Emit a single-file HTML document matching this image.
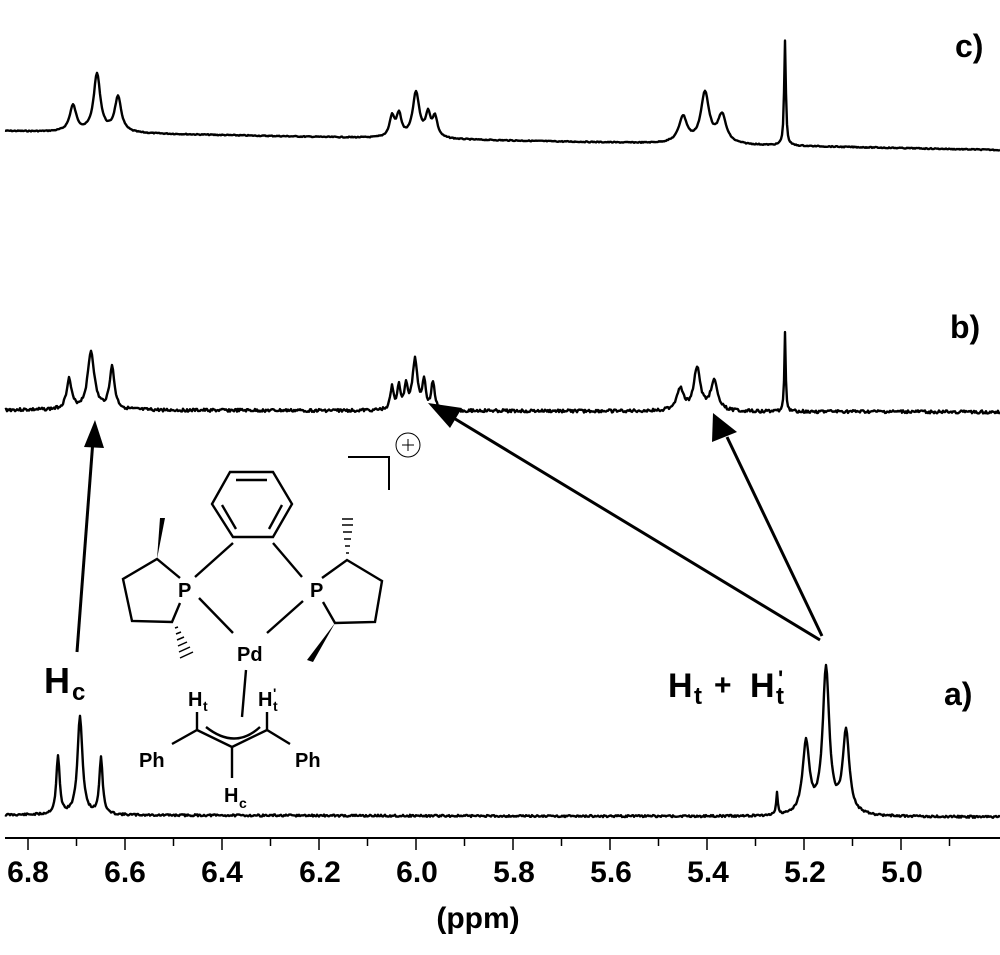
<!DOCTYPE html>
<html><head><meta charset="utf-8"><style>
html,body{margin:0;padding:0;background:#fff;}
svg{display:block}
text{font-family:"Liberation Sans",Arial,sans-serif;fill:#000;font-weight:bold}
</style></head><body>
<svg id="s" width="1000" height="955" viewBox="0 0 1000 955" xmlns="http://www.w3.org/2000/svg">
<g id="spec" fill="none" stroke="#000" stroke-width="2.4" stroke-linejoin="round"></g>
<line x1="5" y1="838" x2="1000" y2="838" stroke="#000" stroke-width="2"/>
<g id="ticks" stroke="#000" stroke-width="1.5"></g>
<g font-size="30">
<text x="28" y="882" text-anchor="middle">6.8</text>
<text x="125" y="882" text-anchor="middle">6.6</text>
<text x="222" y="882" text-anchor="middle">6.4</text>
<text x="320" y="882" text-anchor="middle">6.2</text>
<text x="417" y="882" text-anchor="middle">6.0</text>
<text x="514" y="882" text-anchor="middle">5.8</text>
<text x="611" y="882" text-anchor="middle">5.6</text>
<text x="708" y="882" text-anchor="middle">5.4</text>
<text x="805" y="882" text-anchor="middle">5.2</text>
<text x="902" y="882" text-anchor="middle">5.0</text>
<text x="478" y="928" text-anchor="middle">(ppm)</text>
</g>
<g font-size="32">
<text x="955" y="57">c)</text>
<text x="950" y="338">b)</text>
<text x="944" y="705">a)</text>
<text x="44" y="693" font-size="36">H</text>
<text x="72" y="700" font-size="24">c</text>
<text x="668" y="697" font-size="34">H</text>
<text x="694" y="704" font-size="24">t</text>
<text x="714" y="695" font-size="30">+</text>
<text x="750" y="697" font-size="34">H</text>
<text x="776" y="704" font-size="24">t</text>
<text x="778" y="686" font-size="22">'</text>
</g>
<g stroke="#000" stroke-width="3" fill="#000">
<line x1="77" y1="652" x2="93" y2="440"/>
<polygon points="95,420 84,447 104,448" stroke="none"/>
<line x1="820" y1="640" x2="447" y2="414"/>
<polygon points="428,403 450,428 462,408" stroke="none"/>
<line x1="822" y1="636" x2="727" y2="437"/>
<polygon points="713,413 712,442 737,432" stroke="none"/>
</g>
<g stroke="#000" stroke-width="2" fill="none">
<polyline points="348,457 389,457 389,490"/>
<circle cx="408" cy="445" r="12" stroke-width="1"/>
<line x1="402" y1="445" x2="414" y2="445" stroke-width="1"/>
<line x1="408" y1="439" x2="408" y2="451" stroke-width="1"/>
</g>
<g stroke="#000" stroke-width="2.4" fill="none">
<polygon points="230,472 273,472 292,504 273,537 233,537 212,504"/>
<line x1="236" y1="480" x2="267" y2="480"/>
<line x1="222" y1="505" x2="236" y2="529"/>
<line x1="282" y1="505" x2="269" y2="529"/>
<line x1="233" y1="543" x2="195" y2="577"/>
<line x1="273" y1="543" x2="302" y2="577"/>
<line x1="199" y1="598" x2="233" y2="633"/>
<line x1="303" y1="601" x2="267" y2="633"/>
<polyline points="180,578 157,559 123,579 132,621 172,622 180,603"/>
<polyline points="322,578 347,560 382,581 375,622 335,623 323,602"/>
<line x1="246" y1="670" x2="242" y2="717"/>
<line x1="197" y1="712" x2="197" y2="730"/>
<line x1="267" y1="712" x2="267" y2="730"/>
<polyline points="172,744 197,730 232,747 267,730 290,744"/>
<line x1="232" y1="747" x2="232" y2="778"/>
<path d="M206,727 Q235,750 260,727"/>
</g>
<g fill="#000">
<polygon points="157,559 160,518 165,518"/>
<polygon points="335,623 307,660 313,662"/>
</g>
<g stroke="#000" stroke-width="1.5">
<line x1="175" y1="628" x2="178" y2="627"/><line x1="176" y1="634" x2="181" y2="632"/>
<line x1="177" y1="640" x2="184" y2="637"/><line x1="178" y1="646" x2="187" y2="642"/>
<line x1="179" y1="652" x2="190" y2="647"/><line x1="180" y1="658" x2="193" y2="652"/>
<line x1="346" y1="553" x2="349" y2="553"/><line x1="345" y1="546" x2="350" y2="546"/>
<line x1="344" y1="539" x2="351" y2="539"/><line x1="343" y1="532" x2="352" y2="532"/>
<line x1="342" y1="525" x2="353" y2="525"/><line x1="342" y1="519" x2="353" y2="519"/>
</g>
<g font-size="20">
<text x="178" y="597">P</text>
<text x="310" y="597">P</text>
<text x="237" y="661">Pd</text>
<text x="188" y="706">H</text><text x="203" y="711" font-size="14">t</text>
<text x="258" y="706">H</text><text x="273" y="711" font-size="14">t</text>
<text x="273" y="698" font-size="14">'</text>
<text x="139" y="767">Ph</text>
<text x="295" y="767">Ph</text>
<text x="224" y="802">H</text><text x="239" y="808" font-size="14">c</text>
</g>
</svg>
<script>
(function(){
var g=document.getElementById('spec');
function L(x,x0,w,h){var d=(x-x0)/w;return h/(1+d*d);}
function mk(base0,base1,peaks,xs,xe,seed,noise){
 var d='';var r=seed;
 for(var x=xs;x<=xe;x+=1){
  var y=base0+(base1-base0)*(x-xs)/(xe-xs);
  for(var i=0;i<peaks.length;i++){y-=L(x,peaks[i][0],peaks[i][1],peaks[i][2]);}
  r=(r*9301+49297)%233280; y+=(r/233280-0.5)*noise;
  d+=(x==xs?'M':'L')+x+','+y.toFixed(1);
 }
 var p=document.createElementNS('http://www.w3.org/2000/svg','path');
 p.setAttribute('d',d);g.appendChild(p);
}
mk(131,150,[[73,4,26],[97,4,58],[118,4,35],[392,3,20],[399,3,22],[416,4,45],[428,3,22],[435,3,20],[683,5,26],[705,5,50],[722,5,28],[785,1,105]],5,1000,7,1);
mk(410,412,[[69,3,30],[91,4,58],[112,3,42],[392,2,22],[399,2,22],[406,2,22],[415,3,50],[424,2,28],[433,2,28],[680,4,22],[697,4,42],[714,4,30],[785,0.8,80]],5,1000,3,3);
mk(815,817,[[58,2,58],[80,3,98],[101,2,57],[777,1,22],[806,4,72],[826,4,145],[846,4,82]],5,1000,11,2);
var t=document.getElementById('ticks');
for(var i=0;i<20;i++){var x=28+i*48.5;var l=(i%2==0)?12:8;
 var ln=document.createElementNS('http://www.w3.org/2000/svg','line');
 ln.setAttribute('x1',x);ln.setAttribute('x2',x);ln.setAttribute('y1',838);ln.setAttribute('y2',838+l);t.appendChild(ln);}
})();
</script>
</body></html>
